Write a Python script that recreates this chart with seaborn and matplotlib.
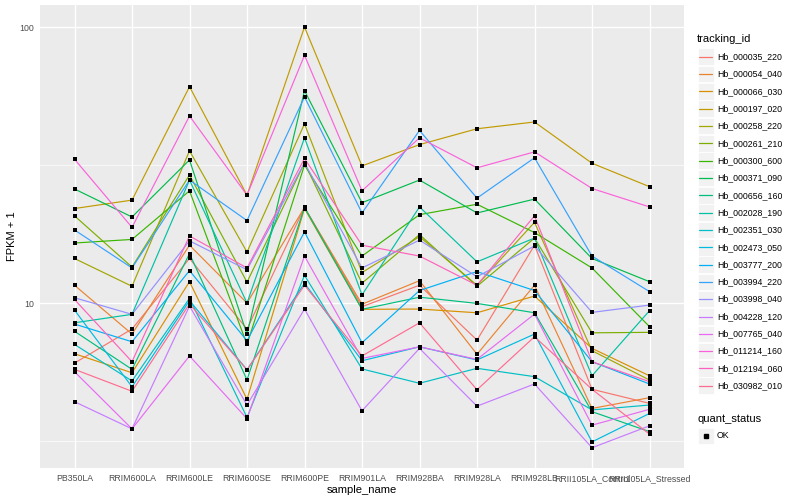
import numpy as np
import pandas as pd
import matplotlib
matplotlib.use("Agg")
import matplotlib.pyplot as plt
import seaborn as sns
from matplotlib.patches import Rectangle

samples = ["PB350LA", "RRIM600LA", "RRIM600LE", "RRIM600SE", "RRIM600PE", "RRIM901LA",
           "RRIM928BA", "RRIM928LA", "RRIM928LB", "RRII105LA_Control", "RRII105LA_Stressed"]

tracking_ids = ["Hb_000035_220", "Hb_000054_040", "Hb_000066_030", "Hb_000197_020",
                "Hb_000258_220", "Hb_000261_210", "Hb_000300_600", "Hb_000371_090",
                "Hb_000656_160", "Hb_002028_190", "Hb_002351_030", "Hb_002473_050",
                "Hb_003777_200", "Hb_003994_220", "Hb_003998_040", "Hb_004228_120",
                "Hb_007765_040", "Hb_011214_160", "Hb_012194_060", "Hb_030982_010"]

colors = ["#F8766D", "#EA8331", "#D89000", "#C09B00", "#A3A500", "#7CAE00", "#39B600",
          "#00BB4E", "#00BF7D", "#00C1A3", "#00BFC4", "#00BAE0", "#00B0F6", "#35A2FF",
          "#9590FF", "#C77CFF", "#E76BF3", "#FA62DB", "#FF62BC", "#FF6C91"]

# FPKM + 1 per tracking_id, in sample order
hb_000035_220 = [6.06, 8.05, 14.5, 8.05, 22.2, 9.7, 11.6, 7.34, 16.2, 4.87, 4.33]
hb_000054_040 = [11.6, 7.72, 16.2, 10.0, 22.2, 9.9, 12.05, 6.52, 11.6, 4.15, 4.54]
hb_000066_030 = [6.55, 5.59, 11.95, 4.48, 22.0, 9.49, 9.51, 9.22, 10.6, 6.85, 5.45]
hb_000197_020 = [22.0, 23.6, 60.8, 24.6, 100.0, 31.4, 37.5, 42.8, 45.3, 32.1, 26.4]
hb_000258_220 = [14.5, 11.5, 35.6, 15.3, 44.6, 12.9, 17.4, 11.6, 19.6, 6.72, 5.26]
hb_000261_210 = [20.7, 13.5, 29.1, 11.9, 32.2, 11.8, 17.7, 11.5, 17.2, 7.8, 7.83]
hb_000300_600 = [16.5, 17.0, 25.5, 7.08, 31.6, 14.8, 20.9, 22.8, 18.0, 13.4, 8.21]
hb_000371_090 = [25.9, 20.5, 33.0, 7.7, 58.8, 23.1, 27.9, 21.2, 23.8, 14.5, 11.95]
hb_000656_160 = [7.9, 5.75, 15.1, 5.27, 22.2, 9.49, 10.5, 9.97, 9.22, 4.04, 3.42]
hb_002028_190 = [8.48, 9.1, 27.9, 10.0, 39.7, 10.7, 22.3, 14.1, 17.2, 5.45, 9.38]
hb_002351_030 = [7.08, 5.22, 10.4, 3.85, 12.6, 5.77, 5.12, 5.80, 5.41, 4.10, 4.27]
hb_002473_050 = [9.43, 4.97, 10.2, 5.73, 11.8, 6.18, 6.94, 6.22, 7.72, 3.14, 3.98]
hb_003777_200 = [8.39, 7.24, 13.1, 7.30, 18.1, 7.18, 11.1, 13.0, 11.1, 6.13, 5.09]
hb_003994_220 = [18.4, 13.4, 27.9, 19.9, 55.8, 21.2, 42.2, 24.0, 33.6, 14.8, 11.0]
hb_003998_040 = [10.45, 9.1, 16.8, 13.2, 32.2, 13.4, 16.9, 12.45, 16.1, 9.25, 9.83]
hb_004228_120 = [4.39, 3.50, 9.75, 4.27, 9.51, 4.07, 6.85, 4.23, 5.09, 2.99, 3.59]
hb_007765_040 = [5.64, 3.50, 6.43, 3.81, 14.8, 6.30, 6.94, 6.25, 9.12, 3.61, 4.12]
hb_011214_160 = [33.2, 18.8, 47.6, 24.6, 79.0, 25.5, 39.7, 30.9, 35.3, 26.0, 22.3]
hb_012194_060 = [10.3, 6.13, 17.5, 13.4, 33.4, 16.2, 14.8, 11.6, 20.7, 6.13, 5.19]
hb_030982_010 = [5.75, 4.79, 9.92, 5.73, 11.6, 6.43, 8.48, 4.85, 7.55, 4.87, 3.35]

series = [hb_000035_220, hb_000054_040, hb_000066_030, hb_000197_020, hb_000258_220,
          hb_000261_210, hb_000300_600, hb_000371_090, hb_000656_160, hb_002028_190,
          hb_002351_030, hb_002473_050, hb_003777_200, hb_003994_220, hb_003998_040,
          hb_004228_120, hb_007765_040, hb_011214_160, hb_012194_060, hb_030982_010]

quant_status = ["OK"]

rows = []
for tid, vals in zip(tracking_ids, series):
    for s, v in zip(samples, vals):
        rows.append({"tracking_id": tid, "sample_name": s, "fpkm1": v, "quant_status": "OK"})
df = pd.DataFrame(rows)
df["pos"] = pd.Categorical(df["sample_name"], categories=samples).codes

sns.set_theme(style="darkgrid")
plt.rcParams["font.family"] = ["Liberation Sans", "DejaVu Sans"]

fig = plt.figure(figsize=(8, 5), dpi=100)
ax = fig.add_axes([40 / 800, 1 - 468 / 500, (684 - 40) / 800, (468 - 5) / 500])
ax.set_facecolor("#EBEBEB")

sns.lineplot(data=df, x="pos", y="fpkm1", hue="tracking_id", hue_order=tracking_ids,
             palette=colors, estimator=None, sort=False, legend=False, linewidth=0.85, ax=ax,
             zorder=2)
sns.scatterplot(data=df, x="pos", y="fpkm1", color="black", marker="s", s=9,
                linewidth=0, legend=False, ax=ax, zorder=3)

ax.set_yscale("log")
ax.set_ylim(2.525, 120.2)
ax.set_xlim(-0.6, len(samples) - 0.4)
ax.set_yticks([10, 100])
ax.set_yticklabels(["10", "100"])
ax.set_yticks([10 ** 0.5, 10 ** 1.5], minor=True)
ax.set_yticklabels([], minor=True)
ax.set_xticks(range(len(samples)))
ax.set_xticklabels(samples)

ax.grid(True, which="major", color="white", linewidth=1.0)
ax.grid(True, which="minor", axis="y", color="white", linewidth=0.5)
ax.set_axisbelow(True)
for sp in ax.spines.values():
    sp.set_visible(False)
ax.tick_params(axis="both", which="major", length=2.7, width=0.6, color="#333333",
               labelsize=6.3, labelcolor="#4D4D4D", pad=1.5)
ax.tick_params(axis="both", which="minor", length=0)
ax.set_xlabel("sample_name", fontsize=8, color="black", labelpad=1.5)
ax.set_ylabel("FPKM + 1", fontsize=8, color="black", labelpad=2)

# legend drawn in pixel coordinates
lax = fig.add_axes([0, 0, 1, 1], facecolor="none")
lax.set_xlim(0, 800)
lax.set_ylim(500, 0)
lax.axis("off")
lax.text(697, 39, "tracking_id", fontsize=8, va="center", ha="left", color="black")
step = 17.32
for i, (tid, c) in enumerate(zip(tracking_ids, colors)):
    cy = 56.7 + i * step
    lax.add_patch(Rectangle((697.5, cy - 8.3), 16.5, 16.6, facecolor="#F2F2F2",
                            edgecolor="white", linewidth=0.6))
    lax.plot([699, 712], [cy, cy], color=c, linewidth=0.9)
    lax.text(717, cy, tid, fontsize=6.3, va="center", ha="left", color="black")
lax.text(697, 419, "quant_status", fontsize=8, va="center", ha="left", color="black")
for j, q in enumerate(quant_status):
    cy = 436 + j * step
    lax.add_patch(Rectangle((697.5, cy - 8.3), 16.5, 16.6, facecolor="#F2F2F2",
                            edgecolor="white", linewidth=0.6))
    lax.plot([705.7], [cy], marker="s", color="black", markersize=2.6, linestyle="none")
    lax.text(717, cy, q, fontsize=6.3, va="center", ha="left", color="black")

fig.savefig("out.png", dpi=100, facecolor="white")
